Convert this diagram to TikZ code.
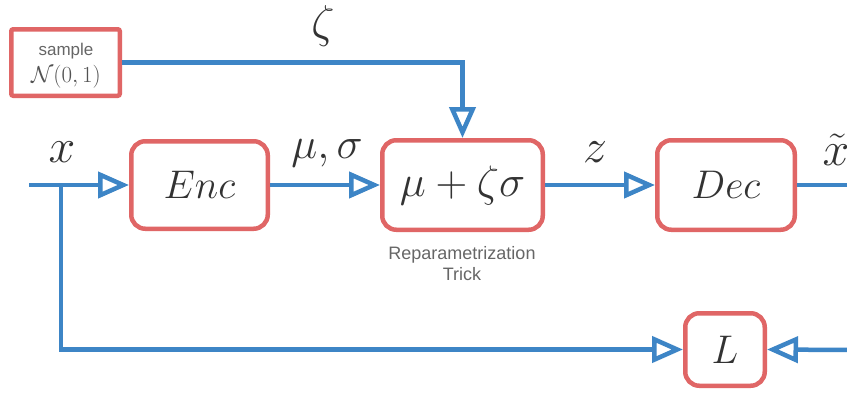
\RequirePackage{fix-cm}
\documentclass[tikz,border=0pt]{standalone}
\usepackage{fontspec}
\newfontfamily\notesans{Liberation Sans}
\usetikzlibrary{arrows.meta}
\definecolor{flowblue}{HTML}{3D85C6}
\definecolor{boxred}{HTML}{E06666}
\definecolor{ink}{HTML}{333333}
\definecolor{note}{HTML}{666666}

\begin{document}
\begin{tikzpicture}[x=1pt,y=-1pt,
  block/.style={draw=boxred, line width=4.5pt, rounded corners=14pt, inner sep=0pt,
    text=ink, font=\fontsize{40}{40}\selectfont},
  flow/.style={draw=flowblue, line width=4.5pt},
  feed/.style={flow, -{Triangle[open, length=31pt, width=26pt]}},
  sym/.style={text=ink, inner sep=0pt, font=\fontsize{46}{46}\selectfont},
  caption/.style={text=note, inner sep=0pt, font=\notesans\fontsize{18}{18}\selectfont}]

\fill[white] (0,0) rectangle (847,392);
\useasboundingbox (0,0) rectangle (847,392);

% sampling box
\node[block, rounded corners=2pt, minimum width=108.5pt, minimum height=66.5pt] (smp) at (65.5,62.5) {};
\node[caption, text=note, font=\notesans\fontsize{17}{17}\selectfont, anchor=base] (smplbl) at (66,55) {sample};
\node[sym, text=note!80!black, font=\fontsize{23}{23}\selectfont, anchor=base] (smpdist) at (66,82) {$\mathcal{N}(0,1)$};

% main blocks
\node[block, minimum width=136.5pt, minimum height=87.5pt] (enc) at (199.5,185) {$Enc$};
\node[block, minimum width=160.5pt, minimum height=89.5pt, font=\fontsize{44}{44}\selectfont] (rep) at (462.5,185) {\raisebox{-5pt}{$\mu+\zeta\sigma$}};
\node[block, minimum width=137.5pt, minimum height=89.5pt] (dec) at (726,185) {\raisebox{-2pt}{$Dec$}};
\node[block, minimum width=79.5pt, minimum height=72.5pt] (loss) at (725,349.5) {$L$};

% caption under the reparametrization block
\node[caption, anchor=base] (cap1) at (462,259) {Reparametrization};
\node[caption, anchor=base] (cap2) at (462,280) {Trick};

% free ends of the connectors
\coordinate (xin) at (29,185);
\coordinate (xbr) at (61,185);
\coordinate (xout) at (852,185);
\coordinate (xback) at (852,350);

% connectors
\draw[feed] (xin) -- (enc.west);
\draw[feed] (enc.east) -- (rep.west);
\draw[feed] (rep.east) -- (dec.west);
\draw[flow] (dec.east) -- (xout);
\draw[feed] (smp.east) -| (rep.north);
\draw[feed] (xbr) |- (loss.west);
\draw[feed] (xback) -- (loss.east);

% signal labels
\node[sym, font=\fontsize{48}{48}\selectfont, anchor=base] (lx) at (62,162) {$x$};
\node[sym, font=\fontsize{44}{44}\selectfont, anchor=base] (lms) at (327,158) {$\mu,\sigma$};
\node[sym] (lzeta) at (323,26) {$\zeta$};
\node[sym, font=\fontsize{48}{48}\selectfont, anchor=base] (lz) at (595,162) {$z$};
\node[sym, font=\fontsize{48}{48}\selectfont, anchor=base] (lxt) at (836,165) {$\tilde{x}$};
\end{tikzpicture}
\end{document}
